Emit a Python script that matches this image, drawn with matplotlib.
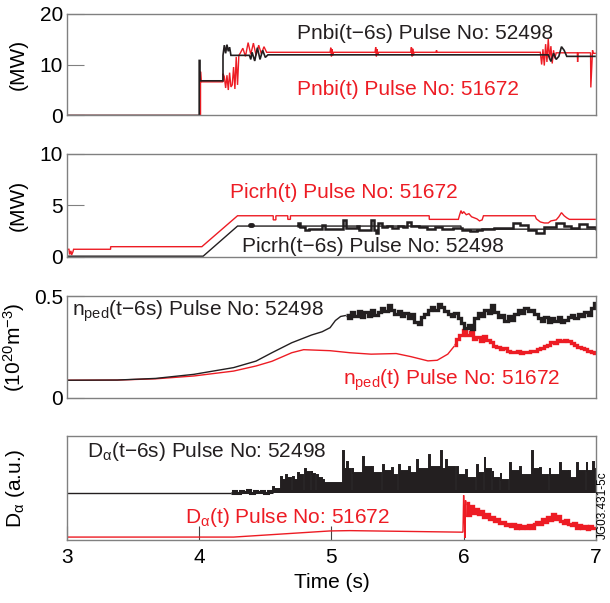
import numpy as np
import matplotlib
matplotlib.use("Agg")
import matplotlib.pyplot as plt

plt.rcParams['font.family'] = ['Liberation Sans', 'DejaVu Sans']
plt.rcParams['mathtext.fontset'] = 'custom'
plt.rcParams['mathtext.rm'] = 'Liberation Sans'
plt.rcParams['mathtext.it'] = 'Liberation Sans:italic'
plt.rcParams['lines.solid_joinstyle'] = 'miter'
plt.rcParams['lines.solid_capstyle'] = 'butt'

RED = '#ed1c24'
BLK = '#231f20'
FRAME = '#808080'
FS = 15

# ---- Pnbi (MW), (time, value) pairs
nbi_blk = [(3.0, 0.0), (4.0, 0.0), (4.0, 10.8), (4.006, 10.8), (4.006, 6.8), (4.18, 6.8),
           (4.18, 11.8), (4.19, 13.8), (4.2, 12.2), (4.21, 13.9), (4.22, 12.6), (4.23, 13.4),
           (4.24, 11.8), (4.38, 11.8), (4.39, 11.0), (4.40, 12.4), (4.42, 10.7), (4.44, 13.3),
           (4.46, 11.0), (4.48, 12.8), (4.50, 11.4), (4.52, 11.9), (6.64, 11.9), (6.66, 10.6),
           (6.68, 12.2), (6.70, 11.0), (6.72, 11.6), (6.74, 13.5), (6.76, 12.8), (6.78, 11.6),
           (7.0, 11.6)]
nbi_red = [(3.0, 0.0), (4.01, 0.0), (4.01, 8.6), (4.015, 6.6), (4.18, 6.6), (4.18, 8.2),
           (4.19, 7.6), (4.20, 5.4), (4.21, 7.9), (4.22, 5.0), (4.23, 8.4), (4.24, 5.6),
           (4.25, 6.0), (4.26, 9.5), (4.27, 5.2), (4.28, 11.5), (4.29, 6.0), (4.30, 11.8),
           (4.31, 12.2), (4.33, 13.2), (4.35, 11.6), (4.37, 14.3), (4.39, 12.0), (4.41, 14.2),
           (4.43, 11.8), (4.45, 13.8), (4.47, 12.1), (4.49, 13.5), (4.51, 12.4), (4.99, 12.4),
           (4.995, 13.3), (5.0, 11.6), (5.005, 13.0), (5.01, 11.8), (5.015, 12.4), (5.33, 12.4),
           (5.335, 13.4), (5.34, 11.6), (5.345, 13.0), (5.35, 12.0), (5.355, 12.4), (5.60, 12.4),
           (5.605, 13.4), (5.61, 11.6), (5.615, 13.1), (5.62, 11.8), (5.625, 12.4), (5.79, 12.4),
           (5.795, 12.8), (5.80, 12.4), (6.58, 12.4), (6.59, 10.0), (6.60, 13.0), (6.61, 9.8),
           (6.62, 14.0), (6.63, 10.5), (6.64, 15.0), (6.65, 11.0), (6.66, 13.6), (6.67, 10.2),
           (6.68, 12.8), (6.69, 11.2), (6.70, 12.3), (6.86, 12.3), (6.862, 10.5), (6.866, 12.3),
           (6.96, 12.3), (6.962, 5.5), (6.975, 12.8), (6.98, 12.2), (7.0, 12.2)]

# ---- Picrh (MW)
icrh_red = [(3.0, 0.75), (3.015, 0.75), (3.02, 0.25), (3.03, 0.6), (3.035, 0.2), (3.045, 0.5),
            (3.05, 0.75), (3.33, 0.75), (3.33, 1.0), (4.02, 1.0), (4.29, 4.0), (4.56, 4.0),
            (4.56, 3.6), (4.58, 3.6), (4.58, 4.0), (4.67, 4.0), (4.67, 3.65), (4.69, 3.65),
            (4.69, 4.0), (5.74, 4.0), (5.74, 3.65), (5.96, 3.65), (5.97, 4.1), (5.98, 4.5),
            (5.99, 4.2), (6.0, 4.4), (6.02, 4.1), (6.04, 4.2), (6.06, 3.9), (6.08, 3.8),
            (6.10, 3.7), (6.12, 3.5), (6.14, 3.6), (6.15, 4.0), (6.54, 4.0), (6.55, 3.7),
            (6.58, 3.4), (6.61, 3.3), (6.64, 3.3), (6.66, 3.5), (6.70, 3.6), (6.72, 3.9),
            (6.74, 4.3), (6.76, 4.0), (6.78, 3.8), (6.80, 3.65), (7.0, 3.65)]
icrh_blk_ref = [(3.0, 0.08), (4.03, 0.08), (4.29, 3.0), (5.98, 3.0), (5.98, 2.7), (7.0, 2.7)]
icrh_blk = [(4.74, 3.0), (4.75, 3.33), (4.76, 2.9), (4.79, 2.9), (4.80, 2.6), (4.83, 2.7),
            (4.90, 2.7), (4.93, 3.1), (4.95, 2.7), (5.02, 2.7), (5.09, 3.6), (5.11, 2.8),
            (5.16, 2.8), (5.19, 3.0), (5.21, 2.6), (5.27, 2.6), (5.30, 3.6), (5.32, 2.6),
            (5.34, 2.3), (5.35, 3.3), (5.38, 2.9), (5.42, 3.0), (5.46, 2.8), (5.50, 3.0),
            (5.54, 2.9), (5.57, 3.4), (5.60, 3.0), (5.66, 2.9), (5.72, 2.7), (5.78, 2.9),
            (5.84, 2.7), (5.92, 2.8), (5.99, 2.6), (6.05, 2.5), (6.10, 2.6), (6.14, 2.7),
            (6.23, 2.8), (6.31, 2.8), (6.37, 3.33), (6.43, 3.1), (6.49, 2.6), (6.55, 2.36),
            (6.61, 2.9), (6.70, 3.3), (6.76, 3.0), (6.81, 2.8), (6.87, 3.2), (6.93, 2.9),
            (7.0, 2.6)]

# ---- n_ped (1e20 m^-3)
nped_blk_smooth = [(3.0, 0.087), (3.38, 0.088), (3.67, 0.096), (3.96, 0.116), (4.26, 0.149),
                   (4.43, 0.181), (4.55, 0.222), (4.70, 0.271), (4.85, 0.309), (4.93, 0.325),
                   (4.99, 0.345), (5.03, 0.38), (5.07, 0.40), (5.11, 0.405)]
nped_red_smooth = [(3.0, 0.087), (3.38, 0.088), (3.67, 0.094), (3.96, 0.108), (4.26, 0.132),
                   (4.43, 0.157), (4.55, 0.18), (4.70, 0.222), (4.79, 0.237), (4.99, 0.232),
                   (5.14, 0.222), (5.30, 0.215), (5.49, 0.218), (5.60, 0.203), (5.73, 0.182),
                   (5.80, 0.185), (5.88, 0.215), (5.93, 0.255)]
nped_blk_noisy = [0.405, 0.39, 0.42, 0.40, 0.425, 0.395, 0.42, 0.40, 0.43, 0.405, 0.42, 0.44,
                  0.425, 0.455, 0.43, 0.41, 0.425, 0.40, 0.415, 0.39, 0.41, 0.375, 0.365, 0.395,
                  0.41, 0.43, 0.445, 0.43, 0.46, 0.445, 0.425, 0.41, 0.40, 0.415, 0.39, 0.37,
                  0.345, 0.36, 0.34, 0.39, 0.415, 0.40, 0.43, 0.415, 0.455, 0.42, 0.395, 0.405,
                  0.38, 0.40, 0.385, 0.41, 0.43, 0.415, 0.44, 0.425, 0.43, 0.41, 0.39, 0.38,
                  0.395, 0.375, 0.39, 0.38, 0.395, 0.375, 0.385, 0.395, 0.405, 0.39, 0.41, 0.40,
                  0.42, 0.405, 0.44, 0.465]
nped_red_noisy = [0.26, 0.29, 0.31, 0.335, 0.31, 0.325, 0.29, 0.30, 0.28, 0.305, 0.285, 0.275,
                  0.255, 0.25, 0.24, 0.245, 0.232, 0.228, 0.225, 0.23, 0.222, 0.228, 0.225, 0.232,
                  0.23, 0.24, 0.245, 0.255, 0.262, 0.275, 0.272, 0.283, 0.28, 0.285, 0.278, 0.27,
                  0.26, 0.252, 0.245, 0.238, 0.23, 0.225, 0.22]

# ---- D_alpha (a.u.)
da_base = 0.45
da_quiet = [0.45, 0.47, 0.455, 0.475, 0.46, 0.48, 0.455, 0.47, 0.46, 0.475, 0.455, 0.47, 0.46]
da_spike_t = [4.56, 4.62, 4.66, 4.71, 4.75, 4.80, 4.85, 4.89, 4.94, 5.09, 5.12, 5.16, 5.24, 5.31,
              5.39, 5.46, 5.51, 5.59, 5.65, 5.74, 5.83, 5.87, 5.95, 6.02, 6.10, 6.16, 6.22, 6.28,
              6.35, 6.43, 6.52, 6.58, 6.65, 6.73, 6.80, 6.86, 6.93, 6.98]
da_spike_h = [0.51, 0.61, 0.62, 0.61, 0.64, 0.68, 0.66, 0.62, 0.58, 0.86, 0.75, 0.69, 0.80, 0.70,
              0.72, 0.69, 0.72, 0.70, 0.77, 0.82, 0.86, 0.77, 0.70, 0.67, 0.72, 0.80, 0.66, 0.64,
              0.74, 0.70, 0.86, 0.69, 0.69, 0.74, 0.66, 0.74, 0.75, 0.75]
da_block = [0.49, 0.58, 0.60, 0.58, 0.62, 0.65, 0.63, 0.60, 0.55, 0.68, 0.68, 0.64, 0.70, 0.64,
            0.66, 0.62, 0.66, 0.64, 0.68, 0.70, 0.68, 0.70, 0.62, 0.60, 0.64, 0.68, 0.60, 0.58,
            0.66, 0.62, 0.68, 0.62, 0.62, 0.66, 0.60, 0.66, 0.66, 0.68]
da_red = [(3.0, 0.028), (4.26, 0.028), (4.99, 0.087), (5.14, 0.09), (5.995, 0.075),
          (6.0, 0.43), (6.005, 0.25), (6.01, 0.02), (6.015, 0.38), (6.02, 0.22)]
da_red_noisy = [0.36, 0.24, 0.33, 0.26, 0.30, 0.25, 0.28, 0.22, 0.25, 0.20, 0.22, 0.18, 0.20,
                0.16, 0.17, 0.14, 0.15, 0.13, 0.15, 0.12, 0.14, 0.12, 0.13, 0.12, 0.14, 0.12,
                0.15, 0.17, 0.15, 0.20, 0.17, 0.22, 0.19, 0.25, 0.20, 0.23, 0.18, 0.16, 0.19,
                0.15, 0.14, 0.16, 0.12, 0.14, 0.12, 0.13, 0.11, 0.13, 0.12, 0.12]


def xy(pairs):
    t, v = zip(*pairs)
    return np.array(t), np.array(v)


def style(ax, yticks, ylabels):
    for s in ax.spines.values():
        s.set_color(FRAME)
        s.set_linewidth(1.0)
    ax.set_xlim(3, 7)
    ax.set_yticks(yticks)
    ax.set_yticklabels(ylabels)
    ax.tick_params(axis='y', direction='in', length=12, color=FRAME, labelsize=FS, pad=3)
    ax.tick_params(axis='x', bottom=False, labelbottom=False)
    ax.yaxis.set_label_coords(-0.075, 0.5)


fig = plt.figure(figsize=(6.1, 6.03), dpi=100)
L, W = 0.1098, 0.867
ax1 = fig.add_axes([L, 0.8085, W, 0.169])
ax2 = fig.add_axes([L, 0.5738, W, 0.171])
ax3 = fig.add_axes([L, 0.340, W, 0.169])
ax4 = fig.add_axes([L, 0.1045, W, 0.1725])

# panel 1
t, v = xy(nbi_red)
ax1.plot(t, v, color=RED, lw=1.0)
t, v = xy(nbi_blk)
ax1.plot(t, v, color=BLK, lw=1.2)
ax1.set_ylim(0, 20)
style(ax1, [0, 10, 20], ['0', '10', '20'])
ax1.set_ylabel('(MW)', fontsize=FS)
ax1.text(4.74, 15.1, 'Pnbi(t\u22126s) Pulse No: 52498', color=BLK, fontsize=FS, va='baseline')
ax1.text(4.74, 4.0, 'Pnbi(t) Pulse No: 51672', color=RED, fontsize=FS, va='baseline')

# panel 2
t, v = xy(icrh_red)
ax2.plot(t, v, color=RED, lw=1.0)
t, v = xy(icrh_blk_ref)
ax2.plot(t, v, color=BLK, lw=1.0)
t, v = xy(icrh_blk)
ax2.plot(t, v, color=BLK, lw=1.8, drawstyle='steps-post')
ax2.plot([4.385, 4.4], [3.1, 3.1], color=BLK, lw=3.5, solid_capstyle='round')
ax2.set_ylim(0, 10)
style(ax2, [0, 5, 10], ['0', '5', '10'])
ax2.set_ylabel('(MW)', fontsize=FS)
ax2.text(4.23, 5.7, 'Picrh(t) Pulse No: 51672', color=RED, fontsize=FS, va='baseline')
ax2.text(4.32, 0.5, 'Picrh(t\u22126s) Pulse No: 52498', color=BLK, fontsize=FS, va='baseline')

# panel 3
t, v = xy(nped_red_smooth)
ax3.plot(t, v, color=RED, lw=1.0)
ax3.plot(np.linspace(5.93, 7.0, len(nped_red_noisy)), nped_red_noisy, color=RED, lw=2.4,
         drawstyle='steps-mid')
t, v = xy(nped_blk_smooth)
ax3.plot(t, v, color=BLK, lw=1.0)
ax3.plot(np.linspace(5.11, 7.0, len(nped_blk_noisy)), nped_blk_noisy, color=BLK, lw=2.4,
         drawstyle='steps-mid')
ax3.set_ylim(0, 0.5)
style(ax3, [0, 0.5], ['0', '0.5'])
ax3.set_ylabel(r'(10$^\mathregular{20}$m$^\mathregular{-3}$)', fontsize=FS)
ax3.text(3.04, 0.402, 'n$_\\mathregular{ped}$(t\u22126s) Pulse No: 52498',
         color=BLK, fontsize=FS, va='baseline')
ax3.text(5.09, 0.067, r'n$_\mathregular{ped}$(t) Pulse No: 51672', color=RED, fontsize=FS,
         va='baseline')

# panel 4
ax4.plot([3.0, 4.24], [da_base, da_base], color=BLK, lw=1.0)
ax4.plot(np.linspace(4.24, 4.56, len(da_quiet)), da_quiet, color=BLK, lw=2.2,
         drawstyle='steps-mid')
tt, vv = [], []
for i, ts in enumerate(da_spike_t):
    tn = da_spike_t[i + 1] if i + 1 < len(da_spike_t) else 7.0
    tend = max(tn - 0.012, ts + 0.02)
    tt += [ts, ts, ts + 0.005, ts + 0.005, tend, tend, tn]
    vv += [da_base, da_spike_h[i], da_spike_h[i], da_block[i], da_block[i], da_base + 0.02,
           da_base + 0.02]
ax4.fill_between(tt, da_base, vv, color=BLK, lw=0)
ax4.plot(tt, vv, color=BLK, lw=1.4)
t, v = xy(da_red)
ax4.plot(t, v, color=RED, lw=1.0)
ax4.plot(np.linspace(6.02, 7.0, len(da_red_noisy)), da_red_noisy, color=RED, lw=2.4,
         drawstyle='steps-mid')
ax4.set_ylim(0, 1)
style(ax4, [], [])
ax4.set_xticks([3, 4, 5, 6, 7])
ax4.tick_params(axis='x', bottom=True, labelbottom=True, direction='in', length=10,
                color='#444444', labelsize=FS, pad=6)
ax4.set_ylabel(r'D$_\mathregular{\alpha}$ (a.u.)', fontsize=FS)
ax4.set_xlabel('Time (s)', fontsize=FS, labelpad=4)
ax4.text(3.15, 0.795, 'D$_\\mathregular{\\alpha}$(t\u22126s) Pulse No: 52498', color=BLK,
         fontsize=FS, va='baseline')
ax4.text(3.89, 0.16, r'D$_\mathregular{\alpha}$(t) Pulse No: 51672', color=RED, fontsize=FS,
         va='baseline')

fig.text(0.988, 0.163, 'JG03.431-5c', rotation=90, fontsize=8.5, ha='center', va='center')

fig.savefig('out.png', dpi=100)
